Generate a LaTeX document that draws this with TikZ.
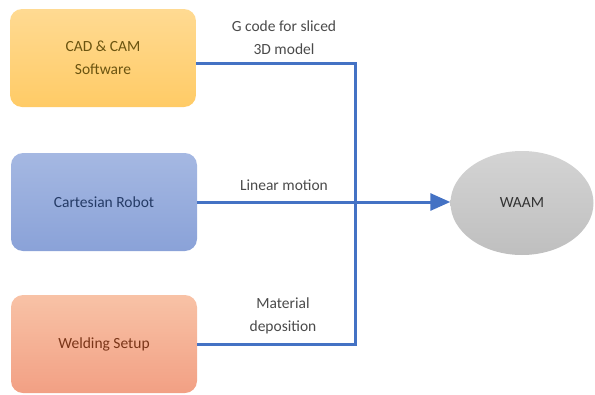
\documentclass[tikz,border=0pt]{standalone}
\usepackage{fontspec}
\setmainfont{Carlito}
\usepackage{xcolor}
\usetikzlibrary{positioning}
\usetikzlibrary{arrows.meta}
\usetikzlibrary{shapes.geometric}

\definecolor{wireblue}{HTML}{4472C4}
\definecolor{labelgray}{HTML}{4A4A4A}
\definecolor{camtop}{HTML}{FFDA92}
\definecolor{cambot}{HTML}{FFCB66}
\definecolor{camtext}{HTML}{6B5410}
\definecolor{robtop}{HTML}{A5B8E2}
\definecolor{robbot}{HTML}{8AA2D8}
\definecolor{robtext}{HTML}{253B66}
\definecolor{weldtop}{HTML}{F8C2A6}
\definecolor{weldbot}{HTML}{F2A084}
\definecolor{weldtext}{HTML}{7A3518}
\definecolor{waamfill}{HTML}{C9C9C9}
\definecolor{waamtext}{HTML}{333333}

\begin{document}
\begin{tikzpicture}[x=1pt,y=-1pt,
  block/.style={rounded corners=12pt, minimum width=186pt, minimum height=98pt,
    inner sep=0pt, align=center, font=\fontsize{15.5}{23}\selectfont},
  wire/.style={draw=wireblue, line width=3pt, line join=miter},
  lbl/.style={align=center, text=labelgray, font=\fontsize{15.5}{23}\selectfont}]

\useasboundingbox (0,0) rectangle (595,394);

% Input blocks
\node[block, top color=camtop, bottom color=cambot, text=camtext] (cad) at (103,58) {CAD \& CAM\\Software};
\node[block, top color=robtop, bottom color=robbot, text=robtext] (robot) at (104,202) {Cartesian Robot};
\node[block, top color=weldtop, bottom color=weldbot, text=weldtext] (weld) at (104,344) {Welding Setup};

% Output
\node[ellipse, minimum width=143pt, minimum height=104pt, inner sep=0pt,
  top color=waamfill!80!white, bottom color=waamfill!95!black, text=waamtext,
  font=\fontsize{15.5}{19}\selectfont] (waam) at (522,203) {WAAM};

% Labels on the connectors
\node[lbl] (gcode) at (284,38) {G code for sliced\\3D model};
\node[lbl] (linear) at (284,185) {Linear motion};
\node[lbl] (material) at (283,316) {Material\\deposition};

% Connectors
\coordinate (bus) at (355,0);
\draw[wire] ([yshift=-5pt]cad.east) -| (bus |- weld.east) -- (weld.east);
\draw[wire, -{Triangle[length=20pt,width=17pt]}] (robot.east) -- (robot.east -| waam.west);

\end{tikzpicture}
\end{document}
